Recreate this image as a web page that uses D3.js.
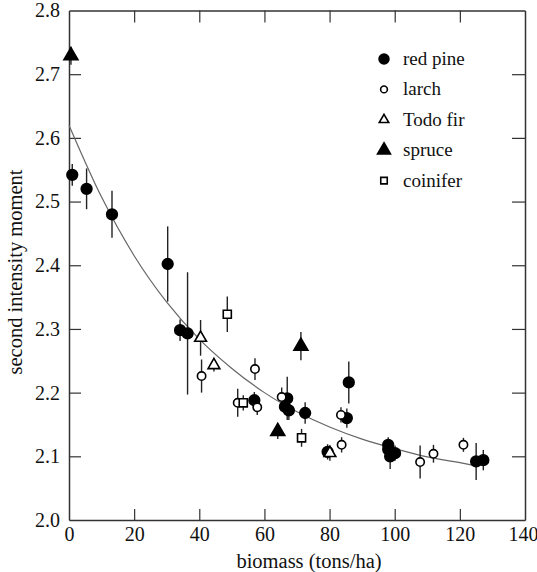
<!DOCTYPE html>
<html>
<head>
<meta charset="utf-8">
<script src="https://cdn.jsdelivr.net/npm/d3@7"></script>
<style>
  body { margin: 0; background: #fff; }
  svg text { font-family: "Liberation Serif", "DejaVu Serif", serif; fill: #111; }
</style>
</head>
<body>
<div id="chart"></div>
<script>
// data: [biomass, moment, error]
var redPine = [
    [1.0, 2.542, 0.017], [5.4, 2.520, 0.032], [13.2, 2.480, 0.037], [30.3, 2.402, 0.059],
    [34.1, 2.298, 0.017], [36.4, 2.293, 0.096], [56.9, 2.188, 0.013], [67.0, 2.191, 0.034],
    [66.3, 2.178, 0.012], [67.5, 2.172, 0.015], [72.5, 2.168, 0.017], [79.4, 2.107, 0.012],
    [85.3, 2.160, 0.015], [85.9, 2.216, 0.033], [98.0, 2.118, 0.012], [98.0, 2.111, 0.012],
    [98.6, 2.100, 0.020], [100.1, 2.105, 0.012], [125.0, 2.092, 0.029], [127.2, 2.094, 0.016]
];
var larch = [
    [40.7, 2.226, 0.026], [57.1, 2.237, 0.017], [51.8, 2.184, 0.022], [57.8, 2.177, 0.012],
    [65.3, 2.193, 0.015], [83.5, 2.165, 0.012], [83.7, 2.118, 0.012], [107.8, 2.091, 0.026],
    [111.9, 2.104, 0.014], [121.1, 2.118, 0.011]
];
var todoFir = [[40.4, 2.286, 0.028], [44.5, 2.243, 0.010], [80.1, 2.105, 0.012]];
var spruce = [[0.6, 2.729, 0.014], [71.2, 2.273, 0.022], [64.1, 2.139, 0.012]];
var coinifer = [[48.6, 2.323, 0.028], [53.5, 2.184, 0.012], [71.4, 2.129, 0.014]];

// fitted curve
var fitX = [0, 10, 20, 30, 40, 50, 60, 70, 80, 90, 100, 110, 120, 125];
var fitY = [2.620, 2.507, 2.415, 2.342, 2.284, 2.238, 2.200, 2.170, 2.146, 2.127, 2.112, 2.099, 2.090, 2.085];

var xTicks = [0, 20, 40, 60, 80, 100, 120, 140];
var yTicks = [2.0, 2.1, 2.2, 2.3, 2.4, 2.5, 2.6, 2.7, 2.8];

var svgWidth = 537;
var svgHeight = 572;
var margin = { top: 10.5, right: 12, bottom: 52, left: 69 };
var width = svgWidth - margin.left - margin.right;
var height = svgHeight - margin.top - margin.bottom;
var serif = "Liberation Serif, DejaVu Serif, serif";

var svg = d3.select("#chart").append("svg")
    .attr("width", svgWidth)
    .attr("height", svgHeight);

var chartGroup = svg.append("g")
    .attr("transform", `translate(${margin.left}, ${margin.top})`);

var xScale = d3.scaleLinear().domain([0, 140]).range([0, width]);
var yScale = d3.scaleLinear().domain([2.0, 2.8]).range([height, 0]);

// axes, ticks pointing inward on all four sides
var axisColor = "#333";
function styleAxis(g) {
    g.attr("font-family", serif);
    g.select(".domain").attr("stroke", axisColor).attr("stroke-width", 1.5);
    g.selectAll(".tick line").attr("stroke", axisColor).attr("stroke-width", 1.2);
}

chartGroup.append("g")
    .attr("transform", `translate(0, ${height})`)
    .call(d3.axisBottom(xScale).tickValues(xTicks).tickSizeInner(-11).tickSizeOuter(0).tickFormat(d3.format("d")))
    .call(styleAxis)
    .call(g => g.selectAll(".tick text")
        .style("font-size", "20px")
        .attr("y", 7)
        .attr("dy", "0.71em")
        .attr("text-anchor", d => d === 140 ? "end" : "middle")
        .attr("x", d => d === 140 ? 13 : 0));

chartGroup.append("g")
    .call(d3.axisTop(xScale).tickValues(xTicks).tickSizeInner(-12).tickSizeOuter(0).tickFormat(""))
    .call(styleAxis);

chartGroup.append("g")
    .call(d3.axisLeft(yScale).tickValues(yTicks).tickSizeInner(-12).tickSizeOuter(0).tickFormat(d3.format(".1f")))
    .call(styleAxis)
    .call(g => g.selectAll(".tick text").style("font-size", "20px").attr("x", -9));

chartGroup.append("g")
    .attr("transform", `translate(${width}, 0)`)
    .call(d3.axisRight(yScale).tickValues(yTicks).tickSizeInner(-13).tickSizeOuter(0).tickFormat(""))
    .call(styleAxis);

// remove the ticks sitting on the corners
chartGroup.selectAll(".tick").filter(d => d === 0 || d === 140 || d === 2.0 || d === 2.8).select("line").remove();

// fitted curve
var fitData = fitX.map((x, i) => [x, fitY[i]]);
chartGroup.append("path")
    .datum(fitData)
    .attr("fill", "none")
    .attr("stroke", "#666")
    .attr("stroke-width", 1.2)
    .attr("d", d3.line().x(d => xScale(d[0])).y(d => yScale(d[1])).curve(d3.curveMonotoneX));

// series with symbols
var series = [
    { name: "red pine", data: redPine, type: d3.symbolCircle, size: 90, fill: "#000" },
    { name: "larch", data: larch, type: d3.symbolCircle, size: 55, fill: "#fff" },
    { name: "Todo fir", data: todoFir, type: d3.symbolTriangle, size: 60, fill: "#fff" },
    { name: "spruce", data: spruce, type: d3.symbolTriangle, size: 85, fill: "#000" },
    { name: "coinifer", data: coinifer, type: d3.symbolSquare, size: 65, fill: "#fff" }
];

// error bars first, then markers
series.forEach(function(s) {
    chartGroup.append("g")
        .selectAll("line")
        .data(s.data)
        .enter()
        .append("line")
        .attr("x1", d => xScale(d[0]))
        .attr("x2", d => xScale(d[0]))
        .attr("y1", d => yScale(d[1] + d[2]))
        .attr("y2", d => yScale(d[1] - d[2]))
        .attr("stroke", "#222")
        .attr("stroke-width", 1.4);
});

series.forEach(function(s) {
    chartGroup.append("g")
        .selectAll("path")
        .data(s.data)
        .enter()
        .append("path")
        .attr("transform", d => `translate(${xScale(d[0])}, ${yScale(d[1])})`)
        .attr("d", d3.symbol().type(s.type).size(s.size))
        .attr("fill", s.fill)
        .attr("stroke", "#000")
        .attr("stroke-width", 1.6);
});

// legend
var legend = svg.append("g").attr("transform", "translate(384, 59)");
series.forEach(function(s, i) {
    var row = legend.append("g").attr("transform", `translate(0, ${i * 30.4})`);
    row.append("path")
        .attr("d", d3.symbol().type(s.type).size(s.fill === "#000" ? s.size * 0.85 : s.size * 0.65))
        .attr("fill", s.fill)
        .attr("stroke", "#000")
        .attr("stroke-width", 1.6);
    row.append("text")
        .attr("x", 19)
        .attr("y", 6)
        .style("font-size", "19px")
        .text(s.name);
});

// axis labels
svg.append("text")
    .attr("x", margin.left + width / 2 + 12)
    .attr("y", 568)
    .attr("text-anchor", "middle")
    .style("font-size", "20.5px")
    .text("biomass (tons/ha)");

svg.append("text")
    .attr("transform", `translate(22, 272) rotate(-90)`)
    .attr("text-anchor", "middle")
    .style("font-size", "20.5px")
    .text("second intensity moment");
</script>
</body>
</html>
